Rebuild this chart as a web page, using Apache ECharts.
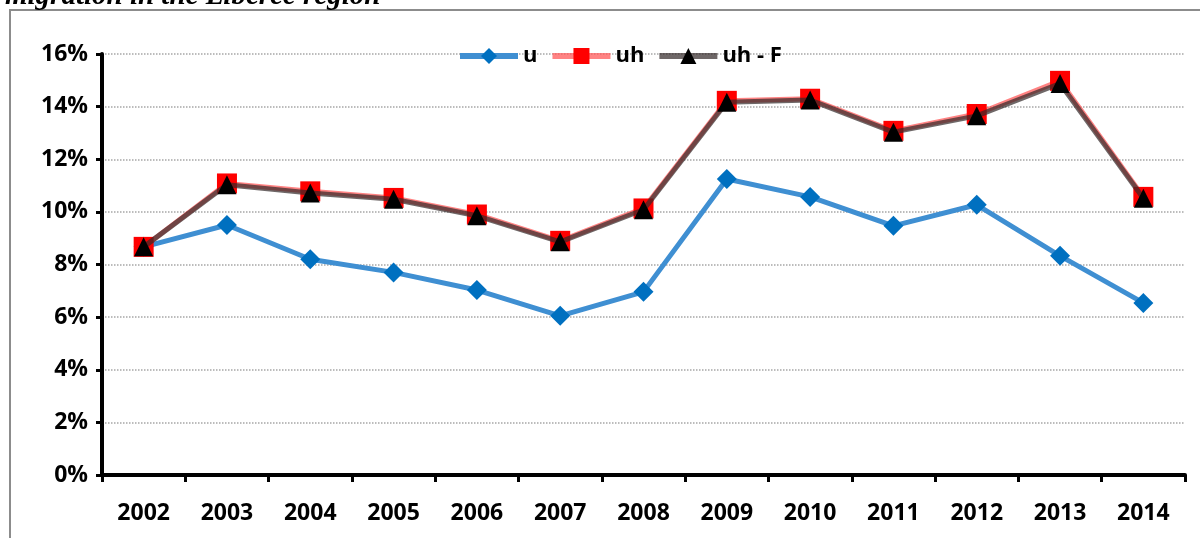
<!DOCTYPE html>
<html>
<head>
<meta charset="utf-8">
<script src="https://cdn.jsdelivr.net/npm/echarts@6/dist/echarts.min.js"></script>
<style>
  html, body { margin: 0; padding: 0; background: #fff; }
  #chart { width: 1200px; height: 538px; }
</style>
</head>
<body>
<div id="chart"></div>
<script>
var years = ['2002', '2003', '2004', '2005', '2006', '2007', '2008', '2009', '2010', '2011', '2012', '2013', '2014'];
var u = [8.67, 9.5, 8.2, 7.7, 7.03, 6.05, 6.96, 11.25, 10.57, 9.47, 10.27, 8.33, 6.54];
var uh = [8.67, 11.08, 10.78, 10.53, 9.9, 8.9, 10.13, 14.22, 14.3, 13.08, 13.72, 14.98, 10.57];
var uhF = [8.67, 11.03, 10.72, 10.48, 9.85, 8.86, 10.08, 14.17, 14.25, 13.03, 13.65, 14.88, 10.52];

var labelFont = 'Open Sans';

var myChart = echarts.init(document.getElementById('chart'));
var option = {
  animation: false,
  backgroundColor: '#fff',
  graphic: [
    {
      type: 'rect',
      shape: { x: 10, y: 10, width: 1200, height: 540 },
      style: { fill: 'none', stroke: '#8c8c8c', lineWidth: 2 }
    },
    {
      type: 'text',
      left: 5,
      top: -18,
      style: {
        text: 'migration in the Liberec region',
        font: 'italic bold 29px "Liberation Serif"',
        fill: '#000'
      }
    }
  ],
  legend: {
    top: 40,
    left: 452,
    itemWidth: 58,
    itemHeight: 20,
    itemGap: 12,
    lineStyle: { width: 6 },
    textStyle: {
      color: '#000',
      fontWeight: 'bold',
      fontSize: 22,
      fontFamily: labelFont
    },
    data: ['u', 'uh', 'uh - F']
  },
  grid: {
    left: 102,
    right: 15,
    top: 54,
    bottom: 63
  },
  xAxis: {
    type: 'category',
    data: years,
    boundaryGap: true,
    axisLine: {
      lineStyle: { color: '#000', width: 4 }
    },
    axisTick: {
      show: true,
      length: 7,
      lineStyle: { color: '#000', width: 3 }
    },
    axisLabel: {
      color: '#000',
      fontWeight: 'bold',
      fontSize: 23,
      fontFamily: labelFont,
      margin: 27
    },
    splitLine: { show: false }
  },
  yAxis: {
    type: 'value',
    min: 0,
    max: 16,
    interval: 2,
    axisLine: {
      show: true,
      lineStyle: { color: '#000', width: 4 }
    },
    axisTick: {
      show: true,
      length: 6,
      lineStyle: { color: '#000', width: 3 }
    },
    axisLabel: {
      formatter: '{value}%',
      color: '#000',
      fontWeight: 'bold',
      fontSize: 23,
      fontFamily: labelFont,
      margin: 14
    },
    splitLine: {
      show: true,
      lineStyle: {
        type: 'dotted',
        color: '#a6a6a6',
        width: 1.5
      }
    }
  },
  series: [
    {
      name: 'u',
      type: 'line',
      data: u,
      symbol: 'diamond',
      symbolSize: 20,
      lineStyle: { color: '#3f8fd2', width: 5 },
      itemStyle: { color: '#0070c0' },
      z: 2
    },
    {
      name: 'uh',
      type: 'line',
      data: uh,
      symbol: 'rect',
      symbolSize: 20,
      lineStyle: { color: 'rgba(255, 90, 90, 0.75)', width: 5 },
      itemStyle: { color: '#ff0000' },
      z: 3
    },
    {
      name: 'uh - F',
      type: 'line',
      data: uhF,
      symbol: 'triangle',
      symbolSize: 19,
      lineStyle: { color: 'rgba(50, 40, 40, 0.7)', width: 5 },
      itemStyle: { color: '#000' },
      z: 4
    }
  ]
};
option && myChart.setOption(option);
</script>
</body>
</html>
